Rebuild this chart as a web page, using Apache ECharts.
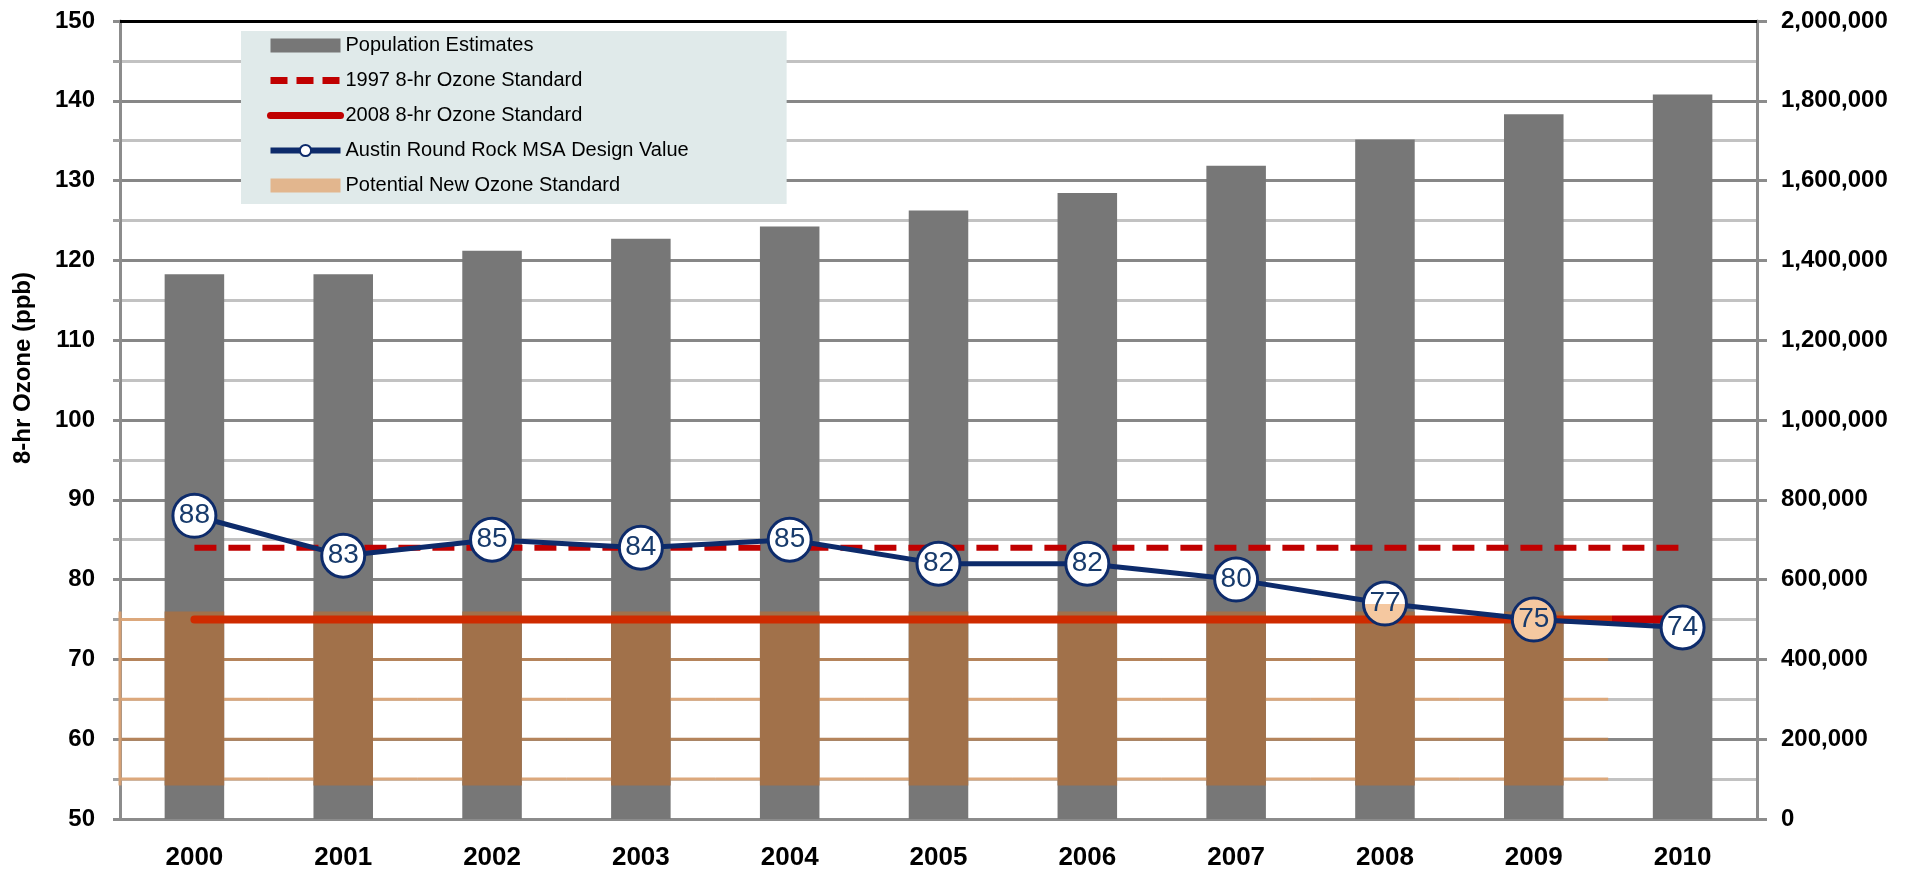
<!DOCTYPE html>
<html>
<head>
<meta charset="utf-8">
<title>Austin Round Rock MSA 8-hr Ozone</title>
<script src="https://cdn.jsdelivr.net/npm/echarts@6/dist/echarts.min.js"></script>
<style>
  html, body { margin: 0; padding: 0; background: #fff; }
  #ozoneChart { width: 1910px; height: 874px; }
</style>
</head>
<body>
<div id="ozoneChart"></div>
<script>
// data
const years = ['2000', '2001', '2002', '2003', '2004', '2005', '2006', '2007', '2008', '2009', '2010'];
const population = [1365000, 1365000, 1424000, 1454000, 1485000, 1525000, 1569000, 1637000, 1703000, 1766000, 1816000];
const designValue = [88, 83, 85, 84, 85, 82, 82, 80, 77, 75, 74];
const standard1997 = [84, 84, 84, 84, 84, 84, 84, 84, 84, 84, 84];
const standard2008 = [75, 75, 75, 75, 75, 75, 75, 75, 75, 75, 75];
// potential new standard: band of levels, covering 2000-2009
const bandYears = ['2000', '2001', '2002', '2003', '2004', '2005', '2006', '2007', '2008', '2009'];
const bandLevels = [55, 60, 65, 70, 75];
const bandRange = [54.2, 76];
const ozoneTicks = [50, 150, 10];
const popTicks = [0, 2000000, 200000];

const NAVY = '#0D2B6B';
const RED = '#C00000';
const TICK_FONT = 'Liberation Sans';

let chart = echarts.init(document.getElementById('ozoneChart'));

// brown patches on the bars + orange grid lines for the band
function renderBand(params, api) {
  let idx = api.value(0);
  let low = api.coord([idx, bandRange[0]]);
  let high = api.coord([idx, bandRange[1]]);
  let catW = api.size([1, 0])[0];
  let barW = catW * 0.4;
  let children = [];
  bandLevels.forEach(function (lv) {
    let y = api.coord([idx, lv])[1];
    children.push({
      type: 'line',
      shape: { x1: low[0] - catW / 2, y1: y, x2: low[0] + catW / 2, y2: y },
      style: { stroke: lv % 10 === 0 ? '#B5845B' : '#DCA87C', lineWidth: 3 }
    });
  });
  if (idx === 0) {
    children.push({
      type: 'line',
      shape: { x1: low[0] - catW / 2, y1: low[1], x2: low[0] - catW / 2, y2: high[1] },
      style: { stroke: '#D4A075', lineWidth: 3 }
    });
  }
  children.push({
    type: 'rect',
    shape: { x: low[0] - barW / 2, y: high[1], width: barW, height: low[1] - high[1] },
    style: { fill: '#A1714A' }
  });
  return { type: 'group', children: children };
}

// marker fills where the band covers the design value points
const markerFill = {
  8: new echarts.graphic.LinearGradient(0, 0, 0, 1, [
    { offset: 0, color: '#ffffff' }, { offset: 0.5, color: '#ffffff' },
    { offset: 0.5, color: '#F5C8A0' }, { offset: 1, color: '#F5C8A0' }
  ]),
  9: '#F5C8A0'
};

let option = {
  animation: false,
  grid: { left: 120, right: 153, top: 21, bottom: 55 },
  legend: {
    orient: 'vertical',
    left: 241,
    top: 31,
    padding: [3, 98, 7, 26],
    backgroundColor: '#E0EAEA',
    itemWidth: 70,
    itemHeight: 14,
    itemGap: 12,
    selectedMode: false,
    textStyle: { fontFamily: 'Liberation Sans', fontSize: 20, color: '#000', lineHeight: 23 },
    data: [
      { name: 'Population Estimates', icon: 'rect', itemStyle: { color: '#777777' } },
      { name: '1997 8-hr Ozone Standard', itemStyle: { opacity: 0 }, lineStyle: { width: 7, type: [17, 9] } },
      { name: '2008 8-hr Ozone Standard', itemStyle: { opacity: 0 }, lineStyle: { color: RED, width: 7 } },
      { name: 'Austin Round Rock MSA Design Value', lineStyle: { width: 6 } },
      { name: 'Potential New Ozone Standard', icon: 'rect', itemStyle: { color: '#E2B68E' } }
    ]
  },
  graphic: [{
    type: 'text',
    x: 23,
    y: 368,
    rotation: Math.PI / 2,
    style: {
      text: '8-hr Ozone (ppb)',
      fill: '#000',
      font: 'bold 24px "Liberation Sans"',
      align: 'center',
      verticalAlign: 'middle'
    }
  }],
  xAxis: [{
    type: 'category',
    data: years,
    axisLine: { lineStyle: { color: '#8C8C8C', width: 3 } },
    axisTick: { length: 10, lineStyle: { color: '#8C8C8C', width: 3 } },
    axisLabel: { margin: 26, fontFamily: TICK_FONT, fontWeight: 'bold', fontSize: 26, color: '#000' }
  }, {
    // black border along the top of the plot
    type: 'category',
    data: years,
    position: 'top',
    axisLine: { lineStyle: { color: '#000', width: 3 } },
    axisTick: { show: false },
    axisLabel: { show: false }
  }],
  yAxis: [{
    type: 'value',
    min: ozoneTicks[0],
    max: ozoneTicks[1],
    interval: ozoneTicks[2],
    position: 'left',
    axisLine: { show: true, lineStyle: { color: '#8C8C8C', width: 3 } },
    axisTick: { show: true, length: 7, lineStyle: { color: '#8C8C8C', width: 3 } },
    minorTick: { show: true, splitNumber: 2, length: 7, lineStyle: { color: '#A0A0A0', width: 3 } },
    splitLine: { lineStyle: { color: '#878787', width: 3 } },
    minorSplitLine: { show: true, lineStyle: { color: '#C2C2C2', width: 3 } },
    axisLabel: { margin: 25, fontFamily: TICK_FONT, fontWeight: 'bold', fontSize: 24, color: '#000' }
  }, {
    type: 'value',
    min: popTicks[0],
    max: popTicks[1],
    interval: popTicks[2],
    position: 'right',
    axisLine: { show: true, lineStyle: { color: '#8C8C8C', width: 3 } },
    axisTick: { show: true, length: 10, lineStyle: { color: '#8C8C8C', width: 3 } },
    splitLine: { show: false },
    axisLabel: {
      margin: 24, fontFamily: TICK_FONT, fontWeight: 'bold', fontSize: 24, color: '#000',
      formatter: function (v) { return v.toLocaleString('en-US'); }
    }
  }],
  series: [
    {
      name: 'Population Estimates',
      type: 'bar',
      yAxisIndex: 1,
      z: 2,
      barWidth: '40%',
      itemStyle: { color: '#777777' },
      data: population
    },
    {
      name: 'Potential New Ozone Standard',
      type: 'custom',
      yAxisIndex: 0,
      z: 3,
      itemStyle: { color: '#E2B68E' },
      encode: { x: 0, y: [1, 2] },
      renderItem: renderBand,
      data: bandYears.map(function (y) { return [y, bandRange[0], bandRange[1]]; })
    },
    {
      name: '1997 8-hr Ozone Standard',
      type: 'line',
      yAxisIndex: 0,
      z: 4,
      symbol: 'none',
      lineStyle: { color: RED, width: 6, type: [22, 12] },
      itemStyle: { color: RED },
      data: standard1997
    },
    {
      name: '2008 8-hr Ozone Standard',
      type: 'line',
      yAxisIndex: 0,
      z: 5,
      symbol: 'none',
      lineStyle: {
        width: 8,
        cap: 'round',
        color: new echarts.graphic.LinearGradient(0, 0, 1, 0, [
          { offset: 0, color: '#CF2B00' }, { offset: 0.95, color: '#CF2B00' },
          { offset: 0.95, color: RED }, { offset: 1, color: RED }
        ])
      },
      itemStyle: { color: RED },
      data: standard2008
    },
    {
      name: 'Austin Round Rock MSA Design Value',
      type: 'line',
      yAxisIndex: 0,
      z: 6,
      symbol: 'circle',
      symbolSize: 43,
      lineStyle: { color: NAVY, width: 5 },
      itemStyle: { color: '#fff', borderColor: NAVY, borderWidth: 3 },
      label: {
        show: true,
        position: 'inside',
        fontFamily: 'Liberation Sans',
        fontSize: 28,
        color: '#173A6B'
      },
      data: designValue.map(function (v, i) {
        return markerFill[i] ? { value: v, itemStyle: { color: markerFill[i] } } : v;
      })
    }
  ]
};

chart.setOption(option);
</script>
</body>
</html>
